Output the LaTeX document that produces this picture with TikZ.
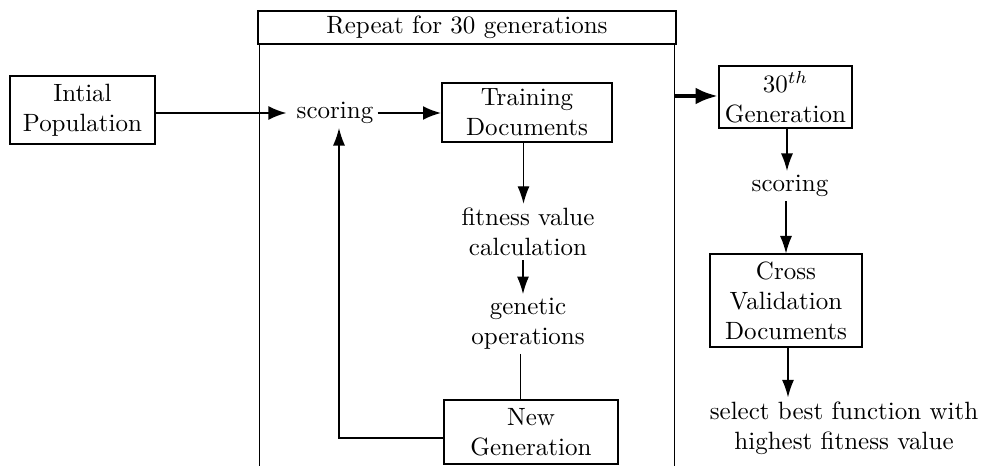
\documentclass[tikz,border=0pt]{standalone}
\usetikzlibrary{arrows.meta,calc}
\begin{document}
\begin{tikzpicture}[x=0.4pt,y=-0.4pt,
  box/.style={draw,line width=0.8pt,align=center,inner sep=0pt},
  txt/.style={align=center,inner sep=1.5pt},
  thinarrow/.style={line width=0.5pt,-{Latex[length=7pt,width=4.8pt]}},
  thickarrow/.style={line width=0.8pt,-{Latex[length=7.2pt,width=5.6pt]}},
  heavyarrow/.style={line width=1.6pt,-{Latex[length=9pt,width=6.7pt]}},
  frameline/.style={line width=0.4pt}]
\useasboundingbox (0,0) rectangle (981,466);

% loop frame
\node[box,minimum width=167.2pt,minimum height=13.2pt] (hdr) at (467,27.5) {Repeat for 30 generations};
\coordinate (lb) at (259,466);
\coordinate (rb) at (674,466);
\draw[frameline] (lb |- hdr.south) -- (lb);
\draw[frameline] (rb |- hdr.south) -- (rb);

% nodes
\node[box,minimum width=58pt,minimum height=27.2pt] (init) at (82.5,110) {Intial\\Population};
\node[txt] (sc1) at (335,113) {scoring};
\node[box,minimum width=68pt,minimum height=23.6pt] (train) at (527,112.5) {Training\\Documents};
\node[txt] (fit) at (528,232) {fitness value\\calculation};
\node[txt] (gen) at (528,324) {genetic\\operations};
\node[box,minimum width=69.6pt,minimum height=25.6pt] (newg) at (531,432) {New\\Generation};
\node[box,minimum width=53.2pt,minimum height=24.8pt] (g30) at (785.5,97) {$30^{th}$\\Generation};
\node[txt] (sc2) at (790,186) {scoring};
\node[box,minimum width=60.8pt,minimum height=36.8pt] (cv) at (786,300.5) {Cross\\Validation\\Documents};
\node[txt] (sel) at (844,428) {select best function with\\highest fitness value};

% connectors
\draw[thickarrow,shorten >=2.4pt] (init.east |- sc1) -- (sc1.west);
\draw[thickarrow] (sc1.east) -- (sc1.east -| train.west);
\draw[thinarrow] ([xshift=-1.4pt]train.south) -- ([xshift=-1.4pt]train.south |- fit.north);
\draw[thinarrow] ([xshift=-2pt]fit.south) -- ([xshift=-2pt]fit.south |- gen.north);
\draw[line width=0.5pt] ([xshift=-3pt]gen.south) -- ([xshift=-3pt]gen.south |- newg.north);
\coordinate (fb) at (339,438);
\draw[thinarrow] (newg.west |- fb) -- (fb) -- (fb |- sc1.south);
\coordinate (rl) at (674,96);
\draw[heavyarrow] (rl) -- (rl -| g30.west);
\draw[thinarrow] ([xshift=0.6pt]g30.south) -- ([xshift=0.6pt]g30.south |- sc2.north);
\draw[thinarrow] (cv.north |- sc2.south) -- (cv.north);
\draw[thinarrow] ([xshift=0.8pt]cv.south) -- ([xshift=0.8pt]cv.south |- sel.north);
\end{tikzpicture}
\end{document}
